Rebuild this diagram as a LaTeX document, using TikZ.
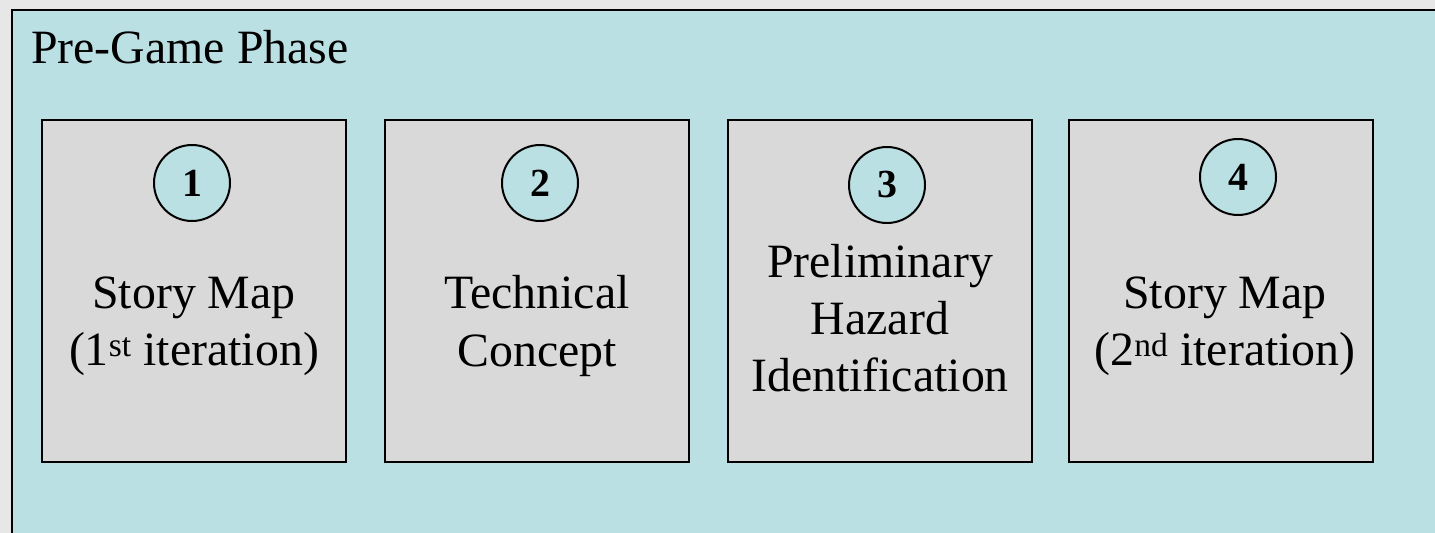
\documentclass[tikz,border=0pt]{standalone}
\usepackage{fontspec}
\setmainfont{Liberation Serif}
\definecolor{pagegray}{HTML}{E7E7E7}
\definecolor{phasecyan}{HTML}{BBE0E3}
\definecolor{boxgray}{HTML}{D9D9D9}
\tikzset{
  stepbox/.style={draw=black, line width=2.4bp, fill=boxgray, minimum width=304bp, minimum height=342bp, inner sep=0pt},
  numcircle/.style={draw=black, line width=2bp, fill=phasecyan, circle, minimum size=76bp, inner sep=0pt, font=\fontsize{40}{44}\selectfont\bfseries},
  boxtext/.style={align=center, font=\fontsize{48}{57.5}\selectfont, inner sep=0pt}
}
\begin{document}
\begin{tikzpicture}[x=1bp,y=-1bp]
\useasboundingbox (0,0) rectangle (1435,533);
\fill[pagegray] (0,0) rectangle (1435,533);
\begin{scope}
\clip (0,0) rectangle (1435,533);
\node[draw=black, line width=2bp, fill=phasecyan, anchor=north west, minimum width=1460bp, minimum height=560bp, inner sep=0pt] (phase) at (11,9) {};
\end{scope}
\node[anchor=base west, font=\fontsize{48}{55}\selectfont, inner sep=0pt] (title) at (31,64) {Pre-Game Phase};

\node[stepbox] (b1) at (194,291) {};
\node[stepbox] (b2) at (537,291) {};
\node[stepbox] (b3) at (880,291) {};
\node[stepbox] (b4) at (1221,291) {};

\node[numcircle] (c1) at (192,183) {1};
\node[numcircle] (c2) at (540,183) {2};
\node[numcircle] (c3) at (887,185) {3};
\node[numcircle] (c4) at (1238,177) {4};

\node[boxtext] (t1) at (194,326) {Story Map\\(1\textsuperscript{st} iteration)};
\node[boxtext] (t2) at (537,326) {Technical\\Concept};
\node[boxtext] (t3) at (880,318) {Preliminary\\Hazard\\Identification};
\node[boxtext] (t4) at (1225,326) {Story Map\\(2\textsuperscript{nd} iteration)};
\end{tikzpicture}
\end{document}
